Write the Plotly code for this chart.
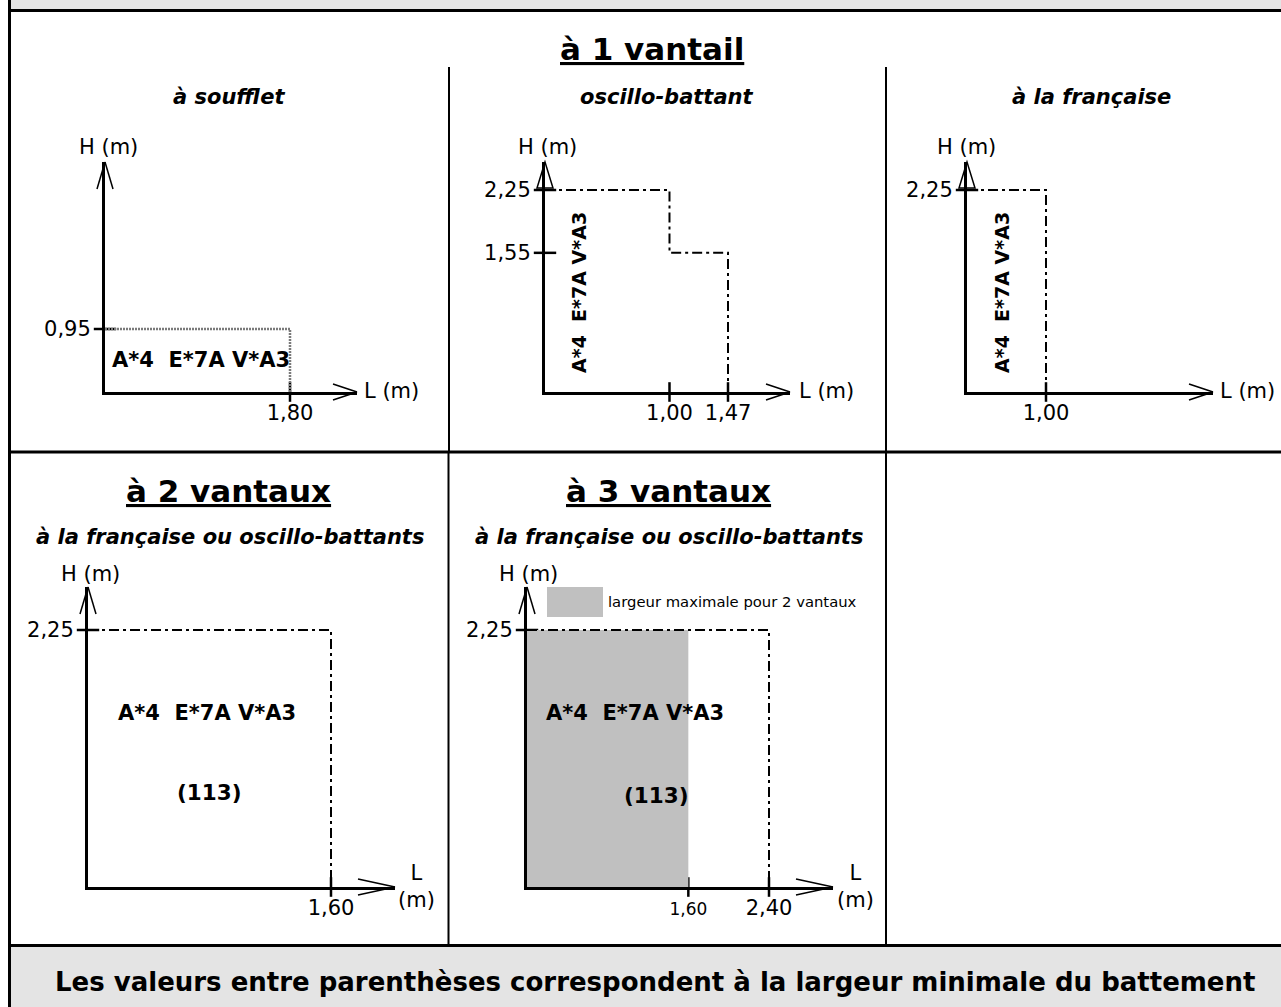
import plotly.graph_objects as go

# ---------------- data ----------------
CLASS_TEXT = "A*4\u00a0 E*7A V*A3"
BATTEMENT = 113

# à 1 vantail – à soufflet
soufflet_L = [1.80]
soufflet_H = [0.95]
# à 1 vantail – oscillo-battant (stepped limit)
oscillo_L = [1.00, 1.47]
oscillo_H = [2.25, 1.55]
# à 1 vantail – à la française
francaise_L = [1.00]
francaise_H = [2.25]
# à 2 vantaux
v2_L = [1.60]
v2_H = [2.25]
# à 3 vantaux
v3_L = [2.40]
v3_H = [2.25]
v3_L_max2 = [1.60]   # largeur maximale pour 2 vantaux

# ---------------- layout helpers ----------------
W, H = 1281, 1007
def fx(p): return p / W
def fy(p): return 1 - p / H
def fmt(v): return f"{v:.2f}".replace(".", ",")

FONT = "DejaVu Sans"
GRAY_BAND = "#e4e4e4"
FILL_GRAY = "#c0c0c0"
DASHDOT = "10px,4px,3px,4px"

fig = go.Figure()

# panel geometry (pixel anchors of the drawn schematic)
panels = [
    dict(cx=105, cy=392, tx=357, ty=162, xr=(soufflet_L[0], 290), yr=(soufflet_H[0], 329), yarrow="v", xal=24),
    dict(cx=545, cy=392, tx=790, ty=162, xr=(oscillo_L[1], 728), yr=(oscillo_H[0], 190), yarrow="tri", xal=24),
    dict(cx=967, cy=392, tx=1213, ty=162, xr=(francaise_L[0], 1046), yr=(francaise_H[0], 190), yarrow="tri", xal=24),
    dict(cx=88, cy=887, tx=395, ty=587, xr=(v2_L[0], 331), yr=(v2_H[0], 630), yarrow="v", xal=37),
    dict(cx=527, cy=887, tx=833, ty=587, xr=(v3_L[0], 769), yr=(v3_H[0], 630), yarrow="v", xal=37),
]
xticks = [soufflet_L, oscillo_L, francaise_L, v2_L, v3_L_max2 + v3_L]
yticks = [soufflet_H, sorted(oscillo_H), francaise_H, v2_H, v3_H]

shapes = []
for i, p in enumerate(panels):
    n = "" if i == 0 else str(i + 1)
    xmax = p["xr"][0] * (p["tx"] - p["cx"]) / (p["xr"][1] - p["cx"])
    ymax = p["yr"][0] * (p["cy"] - p["ty"]) / (p["cy"] - p["yr"][1])
    xt = xticks[i]
    yt = yticks[i]
    xtt = [fmt(v) for v in xt]
    if i == 4:
        xtt = [f"<span style='font-size:17px'>{fmt(xt[0])}</span>", fmt(xt[1])]
    fig.layout["xaxis" + n] = dict(
        domain=[fx(p["cx"]), fx(p["tx"])], range=[0, xmax], anchor="y" + n,
        showline=True, linecolor="black", linewidth=3, showgrid=False, zeroline=False,
        ticks="", tickvals=xt, ticktext=xtt, ticklabelstandoff=0,
        tickfont=dict(family=FONT, size=21, color="black"), fixedrange=True)
    fig.layout["yaxis" + n] = dict(
        domain=[fy(p["cy"]), fy(p["ty"])], range=[0, ymax], anchor="x" + n,
        showline=True, linecolor="black", linewidth=3, showgrid=False, zeroline=False,
        ticks="", tickvals=yt, ticktext=[fmt(v) for v in yt], ticklabelstandoff=7,
        tickfont=dict(family=FONT, size=21, color="black"), fixedrange=True)

    # crossing tick marks
    fig.add_trace(go.Scatter(x=xt, y=[0] * len(xt), mode="markers", xaxis="x" + n, yaxis="y" + n,
                             marker=dict(symbol="line-ns-open", size=14, color="black",
                                         line=dict(width=2.5, color="black")),
                             cliponaxis=False, hoverinfo="skip"))
    fig.add_trace(go.Scatter(x=[0] * len(yt), y=yt, mode="markers", xaxis="x" + n, yaxis="y" + n,
                             marker=dict(symbol="line-ew-open", size=16, color="black",
                                         line=dict(width=2.5, color="black")),
                             cliponaxis=False, hoverinfo="skip"))

    # arrow heads (decoration, paper coords)
    cx, cy, tx, ty = p["cx"], p["cy"], p["tx"], p["ty"]
    lw = dict(color="black", width=1.5)
    if p["yarrow"] == "v":
        for s in (-8, 8):
            shapes.append(dict(type="line", xref="paper", yref="paper", x0=fx(cx), y0=fy(ty),
                               x1=fx(cx + s), y1=fy(ty + 27), line=lw))
    else:
        shapes.append(dict(type="path", xref="paper", yref="paper",
                           path=f"M {fx(cx)},{fy(ty)} L {fx(cx-8)},{fy(ty+26)} L {fx(cx+8)},{fy(ty+26)} Z",
                           line=lw, fillcolor="rgba(0,0,0,0)"))
    for s in (-8, 8):
        shapes.append(dict(type="line", xref="paper", yref="paper", x0=fx(tx), y0=fy(cy),
                           x1=fx(tx - p["xal"]), y1=fy(cy + s), line=lw))

# ---- limit outlines ----
def trace(x, y, n, **kw):
    fig.add_trace(go.Scatter(x=x, y=y, xaxis="x" + n, yaxis="y" + n, hoverinfo="skip", **kw))

dd = dict(color="black", width=2, dash=DASHDOT)
# soufflet: dotted grey rectangle
trace([0, soufflet_L[0], soufflet_L[0]], [soufflet_H[0], soufflet_H[0], 0], "",
      mode="lines", line=dict(color="#7a7a7a", width=2.5, dash="2px,1px"))
# oscillo-battant stepped
trace([0, oscillo_L[0], oscillo_L[0], oscillo_L[1], oscillo_L[1]],
      [oscillo_H[0], oscillo_H[0], oscillo_H[1], oscillo_H[1], 0], "2", mode="lines", line=dd)
# à la française
trace([0, francaise_L[0], francaise_L[0]], [francaise_H[0], francaise_H[0], 0], "3", mode="lines", line=dd)
# à 2 vantaux
trace([0, v2_L[0], v2_L[0]], [v2_H[0], v2_H[0], 0], "4", mode="lines", line=dd)
# à 3 vantaux: grey zone = max width for 2 vantaux
trace([0, v3_L_max2[0], v3_L_max2[0], 0, 0], [0, 0, v3_H[0], v3_H[0], 0], "5",
      mode="lines", fill="toself", fillcolor=FILL_GRAY, line=dict(width=0, color=FILL_GRAY))
trace([0, v3_L[0], v3_L[0]], [v3_H[0], v3_H[0], 0], "5", mode="lines", line=dd)

# ---- table frame / bands ----
def rect(x0, y0, x1, y1, color):
    shapes.append(dict(type="rect", xref="paper", yref="paper", x0=fx(x0), y0=fy(y0), x1=fx(x1), y1=fy(y1),
                       fillcolor=color, line=dict(width=0), layer="below"))
def hline(y, x0, x1, w):
    shapes.append(dict(type="line", xref="paper", yref="paper", x0=fx(x0), x1=fx(x1), y0=fy(y), y1=fy(y),
                       line=dict(color="black", width=w)))
def vline(x, y0, y1, w):
    shapes.append(dict(type="line", xref="paper", yref="paper", x0=fx(x), x1=fx(x), y0=fy(y0), y1=fy(y1),
                       line=dict(color="black", width=w)))

rect(10, 0, W, 10, GRAY_BAND)
rect(10, 946, W, H, GRAY_BAND)
vline(9.5, 0, H, 3)
hline(10.5, 9, W, 3)
hline(452, 9, W, 3)
hline(945.5, 9, W, 3)
vline(449, 67, 452, 2)
vline(886, 67, 452, 2)
vline(448.5, 452, 946, 2)
vline(886, 452, 946, 2)
# legend swatch
rect(547, 587, 603, 617, FILL_GRAY)

# ---- texts ----
ann = []
def text(t, x, y, size, bold=False, italic=False, under=False, xanchor="center", angle=0, family=FONT):
    f = dict(family=family, size=size, color="black")
    if bold: f["weight"] = "bold"
    if italic: f["style"] = "italic"
    if under: f["lineposition"] = "under"
    ann.append(dict(text=t, x=fx(x), y=fy(y), xref="paper", yref="paper", showarrow=False,
                    xanchor=xanchor, yanchor="middle", font=f, textangle=angle))

text("à 1 vantail", 652, 49, 31, bold=True, under=True)
text("à 2 vantaux", 228, 491, 31, bold=True, under=True)
text("à 3 vantaux", 668, 491, 31, bold=True, under=True)

text("à soufflet", 229, 97, 21, bold=True, italic=True)
text("oscillo-battant", 667, 97, 21, bold=True, italic=True)
text("à la française", 1091, 97, 21, bold=True, italic=True)
text("à la française ou oscillo-battants", 230, 537, 21, bold=True, italic=True)
text("à la française ou oscillo-battants", 669, 537, 21, bold=True, italic=True)

# axis names
for (hx, hy) in [(108, 147), (547, 147), (967, 147), (90, 574), (528, 574)]:
    text("H (m)", hx, hy, 21)
for lx in [362, 797, 1218]:
    text("L (m)", lx, 391, 21, xanchor="left")
for lx in [417, 855]:
    text("L<br>(m)", lx, 886, 21)

# classification
text(CLASS_TEXT, 201, 360, 21, bold=True)
text(CLASS_TEXT, 579, 293, 19, bold=True, angle=-90)
text(CLASS_TEXT, 1002, 293, 19, bold=True, angle=-90)
text(CLASS_TEXT, 207, 713, 21, bold=True)
text(CLASS_TEXT, 635, 713, 21, bold=True)
text(f"({BATTEMENT})", 210, 792, 21.5, bold=True)
text(f"({BATTEMENT})", 656, 795, 21.5, bold=True)

text("largeur maximale pour 2 vantaux", 606, 601, 14.8, xanchor="left")
text("Les valeurs entre parenthèses correspondent à la largeur minimale du battement",
     655, 982, 26, bold=True)

fig.update_layout(width=W, height=H, margin=dict(l=0, r=0, t=0, b=0),
                  paper_bgcolor="white", plot_bgcolor="rgba(0,0,0,0)",
                  showlegend=False, separators=", ", shapes=shapes, annotations=ann,
                  font=dict(family=FONT, color="black"))

fig.write_html("out.html", config=dict(displayModeBar=False, staticPlot=True),
               post_script="document.body.style.margin='0';document.body.style.overflow='hidden';")
